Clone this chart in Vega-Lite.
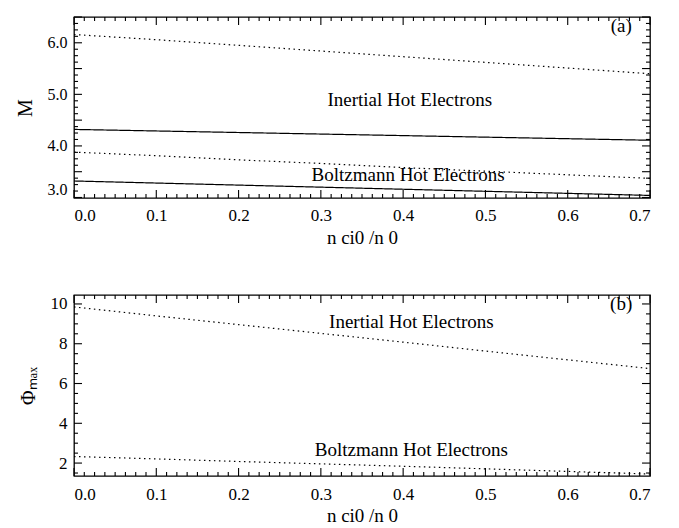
{
  "$schema": "https://vega.github.io/schema/vega-lite/v6.json",
  "background": "white",
  "padding": {"left": 14, "top": 15, "right": 20, "bottom": 5},
  "config": {
    "font": "Liberation Serif",
    "view": {"stroke": "black", "strokeWidth": 1.3},
    "rule": {"color": "black", "strokeWidth": 1.1},
    "axis": {
      "domain": false, "grid": false, "ticks": false, "tickSize": 0,
      "labelColor": "black", "titleColor": "black",
      "labelFont": "Liberation Serif", "titleFont": "Liberation Serif",
      "labelFontSize": 17, "titleFontSize": 19, "titleFontWeight": "normal", "labelOverlap": false
    }
  },
  "datasets": {
    "curves": [
      {"panel": "a", "curve": "a1", "case": "dotted", "x": 0.0, "y": 6.16},
      {"panel": "a", "curve": "a1", "case": "dotted", "x": 0.1, "y": 6.06},
      {"panel": "a", "curve": "a1", "case": "dotted", "x": 0.2, "y": 5.95},
      {"panel": "a", "curve": "a1", "case": "dotted", "x": 0.3, "y": 5.84},
      {"panel": "a", "curve": "a1", "case": "dotted", "x": 0.4, "y": 5.73},
      {"panel": "a", "curve": "a1", "case": "dotted", "x": 0.5, "y": 5.62},
      {"panel": "a", "curve": "a1", "case": "dotted", "x": 0.6, "y": 5.51},
      {"panel": "a", "curve": "a1", "case": "dotted", "x": 0.7, "y": 5.40},
      {"panel": "a", "curve": "a2", "case": "solid", "x": 0.0, "y": 4.32},
      {"panel": "a", "curve": "a2", "case": "solid", "x": 0.1, "y": 4.29},
      {"panel": "a", "curve": "a2", "case": "solid", "x": 0.2, "y": 4.26},
      {"panel": "a", "curve": "a2", "case": "solid", "x": 0.3, "y": 4.23},
      {"panel": "a", "curve": "a2", "case": "solid", "x": 0.4, "y": 4.20},
      {"panel": "a", "curve": "a2", "case": "solid", "x": 0.5, "y": 4.17},
      {"panel": "a", "curve": "a2", "case": "solid", "x": 0.6, "y": 4.14},
      {"panel": "a", "curve": "a2", "case": "solid", "x": 0.7, "y": 4.11},
      {"panel": "a", "curve": "a3", "case": "dotted", "x": 0.0, "y": 3.88},
      {"panel": "a", "curve": "a3", "case": "dotted", "x": 0.1, "y": 3.81},
      {"panel": "a", "curve": "a3", "case": "dotted", "x": 0.2, "y": 3.73},
      {"panel": "a", "curve": "a3", "case": "dotted", "x": 0.3, "y": 3.66},
      {"panel": "a", "curve": "a3", "case": "dotted", "x": 0.4, "y": 3.58},
      {"panel": "a", "curve": "a3", "case": "dotted", "x": 0.5, "y": 3.51},
      {"panel": "a", "curve": "a3", "case": "dotted", "x": 0.6, "y": 3.44},
      {"panel": "a", "curve": "a3", "case": "dotted", "x": 0.7, "y": 3.37},
      {"panel": "a", "curve": "a4", "case": "solid", "x": 0.0, "y": 3.32},
      {"panel": "a", "curve": "a4", "case": "solid", "x": 0.1, "y": 3.28},
      {"panel": "a", "curve": "a4", "case": "solid", "x": 0.2, "y": 3.24},
      {"panel": "a", "curve": "a4", "case": "solid", "x": 0.3, "y": 3.20},
      {"panel": "a", "curve": "a4", "case": "solid", "x": 0.4, "y": 3.16},
      {"panel": "a", "curve": "a4", "case": "solid", "x": 0.5, "y": 3.12},
      {"panel": "a", "curve": "a4", "case": "solid", "x": 0.6, "y": 3.08},
      {"panel": "a", "curve": "a4", "case": "solid", "x": 0.7, "y": 3.04},
      {"panel": "b", "curve": "b1", "case": "dotted", "x": 0.0, "y": 9.85},
      {"panel": "b", "curve": "b1", "case": "dotted", "x": 0.1, "y": 9.40},
      {"panel": "b", "curve": "b1", "case": "dotted", "x": 0.2, "y": 8.96},
      {"panel": "b", "curve": "b1", "case": "dotted", "x": 0.3, "y": 8.52},
      {"panel": "b", "curve": "b1", "case": "dotted", "x": 0.4, "y": 8.08},
      {"panel": "b", "curve": "b1", "case": "dotted", "x": 0.5, "y": 7.63},
      {"panel": "b", "curve": "b1", "case": "dotted", "x": 0.6, "y": 7.19},
      {"panel": "b", "curve": "b1", "case": "dotted", "x": 0.7, "y": 6.75},
      {"panel": "b", "curve": "b2", "case": "dotted", "x": 0.0, "y": 2.33},
      {"panel": "b", "curve": "b2", "case": "dotted", "x": 0.1, "y": 2.21},
      {"panel": "b", "curve": "b2", "case": "dotted", "x": 0.2, "y": 2.08},
      {"panel": "b", "curve": "b2", "case": "dotted", "x": 0.3, "y": 1.96},
      {"panel": "b", "curve": "b2", "case": "dotted", "x": 0.4, "y": 1.84},
      {"panel": "b", "curve": "b2", "case": "dotted", "x": 0.5, "y": 1.71},
      {"panel": "b", "curve": "b2", "case": "dotted", "x": 0.6, "y": 1.58},
      {"panel": "b", "curve": "b2", "case": "dotted", "x": 0.7, "y": 1.45}
    ],
    "labels": [
      {"panel": "a", "text": "(a)", "x": 0.665, "y": 6.33},
      {"panel": "a", "text": "Inertial Hot Electrons", "x": 0.408, "y": 4.9},
      {"panel": "a", "text": "Boltzmann Hot Electrons", "x": 0.406, "y": 3.43},
      {"panel": "b", "text": "(b)", "x": 0.665, "y": 10.0},
      {"panel": "b", "text": "Inertial Hot Electrons", "x": 0.41, "y": 9.1},
      {"panel": "b", "text": "Boltzmann Hot Electrons", "x": 0.41, "y": 2.65}
    ],
    "xticks": [
      {"v": 0.0, "kind": "major"}, {"v": 0.1, "kind": "major"}, {"v": 0.2, "kind": "major"}, {"v": 0.3, "kind": "major"},
      {"v": 0.4, "kind": "major"}, {"v": 0.5, "kind": "major"}, {"v": 0.6, "kind": "major"}, {"v": 0.7, "kind": "major"},
      {"v": 0.0125, "kind": "minor"}, {"v": 0.025, "kind": "minor"}, {"v": 0.0375, "kind": "minor"}, {"v": 0.05, "kind": "minor"}, {"v": 0.0625, "kind": "minor"}, {"v": 0.075, "kind": "minor"}, {"v": 0.0875, "kind": "minor"},
      {"v": 0.1125, "kind": "minor"}, {"v": 0.125, "kind": "minor"}, {"v": 0.1375, "kind": "minor"}, {"v": 0.15, "kind": "minor"}, {"v": 0.1625, "kind": "minor"}, {"v": 0.175, "kind": "minor"}, {"v": 0.1875, "kind": "minor"},
      {"v": 0.2125, "kind": "minor"}, {"v": 0.225, "kind": "minor"}, {"v": 0.2375, "kind": "minor"}, {"v": 0.25, "kind": "minor"}, {"v": 0.2625, "kind": "minor"}, {"v": 0.275, "kind": "minor"}, {"v": 0.2875, "kind": "minor"},
      {"v": 0.3125, "kind": "minor"}, {"v": 0.325, "kind": "minor"}, {"v": 0.3375, "kind": "minor"}, {"v": 0.35, "kind": "minor"}, {"v": 0.3625, "kind": "minor"}, {"v": 0.375, "kind": "minor"}, {"v": 0.3875, "kind": "minor"},
      {"v": 0.4125, "kind": "minor"}, {"v": 0.425, "kind": "minor"}, {"v": 0.4375, "kind": "minor"}, {"v": 0.45, "kind": "minor"}, {"v": 0.4625, "kind": "minor"}, {"v": 0.475, "kind": "minor"}, {"v": 0.4875, "kind": "minor"},
      {"v": 0.5125, "kind": "minor"}, {"v": 0.525, "kind": "minor"}, {"v": 0.5375, "kind": "minor"}, {"v": 0.55, "kind": "minor"}, {"v": 0.5625, "kind": "minor"}, {"v": 0.575, "kind": "minor"}, {"v": 0.5875, "kind": "minor"},
      {"v": 0.6125, "kind": "minor"}, {"v": 0.625, "kind": "minor"}, {"v": 0.6375, "kind": "minor"}, {"v": 0.65, "kind": "minor"}, {"v": 0.6625, "kind": "minor"}, {"v": 0.675, "kind": "minor"}, {"v": 0.6875, "kind": "minor"}
    ],
    "yticks": [
      {"panel": "a", "v": 3.0, "kind": "major"}, {"panel": "a", "v": 3.5, "kind": "major"}, {"panel": "a", "v": 4.0, "kind": "major"}, {"panel": "a", "v": 4.5, "kind": "major"},
      {"panel": "a", "v": 5.0, "kind": "major"}, {"panel": "a", "v": 5.5, "kind": "major"}, {"panel": "a", "v": 6.0, "kind": "major"}, {"panel": "a", "v": 6.5, "kind": "major"},
      {"panel": "a", "v": 3.125, "kind": "minor"}, {"panel": "a", "v": 3.25, "kind": "minor"}, {"panel": "a", "v": 3.375, "kind": "minor"},
      {"panel": "a", "v": 3.625, "kind": "minor"}, {"panel": "a", "v": 3.75, "kind": "minor"}, {"panel": "a", "v": 3.875, "kind": "minor"},
      {"panel": "a", "v": 4.125, "kind": "minor"}, {"panel": "a", "v": 4.25, "kind": "minor"}, {"panel": "a", "v": 4.375, "kind": "minor"},
      {"panel": "a", "v": 4.625, "kind": "minor"}, {"panel": "a", "v": 4.75, "kind": "minor"}, {"panel": "a", "v": 4.875, "kind": "minor"},
      {"panel": "a", "v": 5.125, "kind": "minor"}, {"panel": "a", "v": 5.25, "kind": "minor"}, {"panel": "a", "v": 5.375, "kind": "minor"},
      {"panel": "a", "v": 5.625, "kind": "minor"}, {"panel": "a", "v": 5.75, "kind": "minor"}, {"panel": "a", "v": 5.875, "kind": "minor"},
      {"panel": "a", "v": 6.125, "kind": "minor"}, {"panel": "a", "v": 6.25, "kind": "minor"}, {"panel": "a", "v": 6.375, "kind": "minor"},
      {"panel": "b", "v": 2, "kind": "major"}, {"panel": "b", "v": 4, "kind": "major"}, {"panel": "b", "v": 6, "kind": "major"}, {"panel": "b", "v": 8, "kind": "major"}, {"panel": "b", "v": 10, "kind": "major"},
      {"panel": "b", "v": 1.5, "kind": "minor"}, {"panel": "b", "v": 2.5, "kind": "minor"}, {"panel": "b", "v": 3, "kind": "minor"}, {"panel": "b", "v": 3.5, "kind": "minor"},
      {"panel": "b", "v": 4.5, "kind": "minor"}, {"panel": "b", "v": 5, "kind": "minor"}, {"panel": "b", "v": 5.5, "kind": "minor"},
      {"panel": "b", "v": 6.5, "kind": "minor"}, {"panel": "b", "v": 7, "kind": "minor"}, {"panel": "b", "v": 7.5, "kind": "minor"},
      {"panel": "b", "v": 8.5, "kind": "minor"}, {"panel": "b", "v": 9, "kind": "minor"}, {"panel": "b", "v": 9.5, "kind": "minor"}
    ]
  },
  "vconcat": [
    {
      "width": 576, "height": 181,
      "layer": [
        {
          "data": {"name": "curves"},
          "transform": [{"filter": "datum.panel === 'a'"}],
          "mark": {"type": "line", "color": "black", "strokeWidth": 1.2},
          "encoding": {
            "x": {"field": "x", "type": "quantitative", "scale": {"domain": [0, 0.7], "nice": false},
                  "axis": {"orient": "bottom", "values": [0, 0.1, 0.2, 0.3, 0.4, 0.5, 0.6, 0.7], "format": ".1f", "labelOverlap": false, "labelPadding": 9, "labelFontSize": 17, "title": "n ci0 /n 0", "titleFontSize": 19, "titlePadding": 5}},
            "y": {"field": "y", "type": "quantitative", "scale": {"domain": [2.99, 6.5], "nice": false, "zero": false},
                  "axis": {"orient": "left", "values": [3.0, 3.5, 4.0, 4.5, 5.0, 5.5, 6.0, 6.5], "format": ".1f", "labelOverlap": false, "labelPadding": 7, "labelFlush": true, "labelFontSize": 16, "title": "M", "titleFontSize": 20, "titlePadding": 12}},
            "detail": {"field": "curve"},
            "strokeDash": {"field": "case", "type": "nominal", "scale": {"domain": ["solid", "dotted"], "range": [[1, 0], [1.5, 3.5]]}, "legend": null}
          }
        },
        {
          "data": {"name": "xticks"}, "transform": [{"filter": "datum.kind === 'major'"}],
          "mark": {"type": "rule"},
          "encoding": {"x": {"field": "v", "type": "quantitative"}, "y": {"datum": 2.99, "type": "quantitative"}, "y2": {"datum": 3.145}}
        },
        {
          "data": {"name": "xticks"}, "transform": [{"filter": "datum.kind === 'minor'"}],
          "mark": {"type": "rule"},
          "encoding": {"x": {"field": "v", "type": "quantitative"}, "y": {"datum": 2.99, "type": "quantitative"}, "y2": {"datum": 3.068}}
        },
        {
          "data": {"name": "xticks"}, "transform": [{"filter": "datum.kind === 'major'"}],
          "mark": {"type": "rule"},
          "encoding": {"x": {"field": "v", "type": "quantitative"}, "y": {"datum": 6.5, "type": "quantitative"}, "y2": {"datum": 6.345}}
        },
        {
          "data": {"name": "xticks"}, "transform": [{"filter": "datum.kind === 'minor'"}],
          "mark": {"type": "rule"},
          "encoding": {"x": {"field": "v", "type": "quantitative"}, "y": {"datum": 6.5, "type": "quantitative"}, "y2": {"datum": 6.422}}
        },
        {
          "data": {"name": "yticks"}, "transform": [{"filter": "datum.panel === 'a' && datum.kind === 'major'"}],
          "mark": {"type": "rule"},
          "encoding": {"y": {"field": "v", "type": "quantitative"}, "x": {"datum": 0, "type": "quantitative"}, "x2": {"datum": 0.0097}}
        },
        {
          "data": {"name": "yticks"}, "transform": [{"filter": "datum.panel === 'a' && datum.kind === 'minor'"}],
          "mark": {"type": "rule"},
          "encoding": {"y": {"field": "v", "type": "quantitative"}, "x": {"datum": 0, "type": "quantitative"}, "x2": {"datum": 0.0049}}
        },
        {
          "data": {"name": "yticks"}, "transform": [{"filter": "datum.panel === 'a' && datum.kind === 'major'"}],
          "mark": {"type": "rule"},
          "encoding": {"y": {"field": "v", "type": "quantitative"}, "x": {"datum": 0.7, "type": "quantitative"}, "x2": {"datum": 0.6903}}
        },
        {
          "data": {"name": "yticks"}, "transform": [{"filter": "datum.panel === 'a' && datum.kind === 'minor'"}],
          "mark": {"type": "rule"},
          "encoding": {"y": {"field": "v", "type": "quantitative"}, "x": {"datum": 0.7, "type": "quantitative"}, "x2": {"datum": 0.6951}}
        },
        {
          "data": {"name": "labels"},
          "transform": [{"filter": "datum.panel === 'a'"}],
          "mark": {"type": "text", "color": "black", "fontSize": 19, "font": "Liberation Serif", "baseline": "middle", "align": "center"},
          "encoding": {
            "x": {"field": "x", "type": "quantitative"},
            "y": {"field": "y", "type": "quantitative"},
            "text": {"field": "text"}
          }
        }
      ]
    },
    {
      "width": 576, "height": 181,
      "layer": [
        {
          "data": {"name": "curves"},
          "transform": [{"filter": "datum.panel === 'b'"}],
          "mark": {"type": "line", "color": "black", "strokeWidth": 1.2},
          "encoding": {
            "x": {"field": "x", "type": "quantitative", "scale": {"domain": [0, 0.7], "nice": false},
                  "axis": {"orient": "bottom", "values": [0, 0.1, 0.2, 0.3, 0.4, 0.5, 0.6, 0.7], "format": ".1f", "labelOverlap": false, "labelPadding": 10, "labelFontSize": 17, "title": "n ci0 /n 0", "titleFontSize": 19, "titlePadding": 4}},
            "y": {"field": "y", "type": "quantitative", "scale": {"domain": [1.35, 10.45], "nice": false, "zero": false},
                  "axis": {"orient": "left", "values": [2, 4, 6, 8, 10], "format": "d", "labelOverlap": false, "labelPadding": 7, "labelFontSize": 17, "title": "Φₘₐₓ", "titleFontSize": 20, "titlePadding": 12}},
            "detail": {"field": "curve"},
            "strokeDash": {"field": "case", "type": "nominal", "scale": {"domain": ["solid", "dotted"], "range": [[1, 0], [1.5, 3.5]]}, "legend": null}
          }
        },
        {
          "data": {"name": "xticks"}, "transform": [{"filter": "datum.kind === 'major'"}],
          "mark": {"type": "rule"},
          "encoding": {"x": {"field": "v", "type": "quantitative"}, "y": {"datum": 1.35, "type": "quantitative"}, "y2": {"datum": 1.752}}
        },
        {
          "data": {"name": "xticks"}, "transform": [{"filter": "datum.kind === 'minor'"}],
          "mark": {"type": "rule"},
          "encoding": {"x": {"field": "v", "type": "quantitative"}, "y": {"datum": 1.35, "type": "quantitative"}, "y2": {"datum": 1.551}}
        },
        {
          "data": {"name": "xticks"}, "transform": [{"filter": "datum.kind === 'major'"}],
          "mark": {"type": "rule"},
          "encoding": {"x": {"field": "v", "type": "quantitative"}, "y": {"datum": 10.45, "type": "quantitative"}, "y2": {"datum": 10.048}}
        },
        {
          "data": {"name": "xticks"}, "transform": [{"filter": "datum.kind === 'minor'"}],
          "mark": {"type": "rule"},
          "encoding": {"x": {"field": "v", "type": "quantitative"}, "y": {"datum": 10.45, "type": "quantitative"}, "y2": {"datum": 10.249}}
        },
        {
          "data": {"name": "yticks"}, "transform": [{"filter": "datum.panel === 'b' && datum.kind === 'major'"}],
          "mark": {"type": "rule"},
          "encoding": {"y": {"field": "v", "type": "quantitative"}, "x": {"datum": 0, "type": "quantitative"}, "x2": {"datum": 0.0097}}
        },
        {
          "data": {"name": "yticks"}, "transform": [{"filter": "datum.panel === 'b' && datum.kind === 'minor'"}],
          "mark": {"type": "rule"},
          "encoding": {"y": {"field": "v", "type": "quantitative"}, "x": {"datum": 0, "type": "quantitative"}, "x2": {"datum": 0.0049}}
        },
        {
          "data": {"name": "yticks"}, "transform": [{"filter": "datum.panel === 'b' && datum.kind === 'major'"}],
          "mark": {"type": "rule"},
          "encoding": {"y": {"field": "v", "type": "quantitative"}, "x": {"datum": 0.7, "type": "quantitative"}, "x2": {"datum": 0.6903}}
        },
        {
          "data": {"name": "yticks"}, "transform": [{"filter": "datum.panel === 'b' && datum.kind === 'minor'"}],
          "mark": {"type": "rule"},
          "encoding": {"y": {"field": "v", "type": "quantitative"}, "x": {"datum": 0.7, "type": "quantitative"}, "x2": {"datum": 0.6951}}
        },
        {
          "data": {"name": "labels"},
          "transform": [{"filter": "datum.panel === 'b'"}],
          "mark": {"type": "text", "color": "black", "fontSize": 19, "font": "Liberation Serif", "baseline": "middle", "align": "center"},
          "encoding": {
            "x": {"field": "x", "type": "quantitative"},
            "y": {"field": "y", "type": "quantitative"},
            "text": {"field": "text"}
          }
        }
      ]
    }
  ],
  "spacing": 97,
  "bounds": "flush"
}
